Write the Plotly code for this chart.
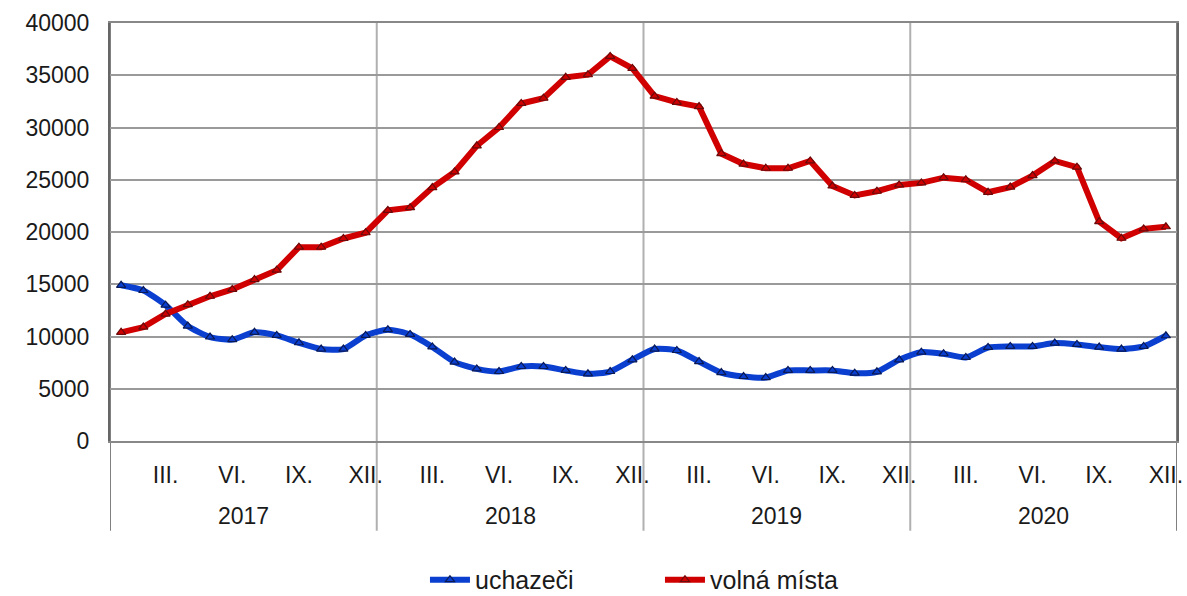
import plotly.graph_objects as go

years = ["2017", "2018", "2019", "2020"]
month_labels = ["III.", "VI.", "IX.", "XII."]
month_index = list(range(48))

uchazeci = [14900, 14400, 13000, 11000, 9950, 9700, 10400, 10100, 9400, 8800, 8800, 10100,
            10650, 10200, 9000, 7550, 6900, 6650, 7130, 7130, 6750, 6430, 6650, 7770,
            8800, 8660, 7600, 6550, 6170, 6070, 6750, 6750, 6750, 6490, 6620, 7770,
            8500, 8350, 8000, 8950, 9050, 9050, 9370, 9240, 8990, 8800, 9050, 10070]
volna_mista = [10400, 10900, 12150, 13050, 13850, 14500, 15450, 16350, 18550, 18550, 19380, 19930,
               22070, 22330, 24250, 25750, 28250, 30000, 32300, 32800, 34800, 35050, 36800, 35650,
               33000, 32400, 32000, 27500, 26500, 26100, 26100, 26800, 24400, 23500, 23900, 24500,
               24700, 25200, 25000, 23800, 24300, 25400, 26800, 26200, 21000, 19400, 20300, 20500]

FONT = "Liberation Sans, Arial, sans-serif"
TXT = "#1a1a1a"
TICK_SIZE = 23

fig = go.Figure()
fig.add_trace(go.Scatter(
    x=month_index, y=uchazeci, name="uchazeči", mode="lines+markers",
    line=dict(color="#0a3fd0", width=6, shape="spline", smoothing=0.6),
    marker=dict(symbol="triangle-up", size=8, color="#0a3fd0",
                line=dict(color="#0a1a55", width=1.2)),
))
fig.add_trace(go.Scatter(
    x=month_index, y=volna_mista, name="volná místa", mode="lines+markers",
    line=dict(color="#d00000", width=6),
    marker=dict(symbol="triangle-up", size=8, color="#d00000",
                line=dict(color="#6a0a0a", width=1.2)),
))

tickvals = []
ticktext = []
for yi in range(len(years)):
    for mi, lab in enumerate(month_labels):
        tickvals.append(yi * 12 + (mi + 1) * 3 - 1)
        ticktext.append(lab)

# year dividers (in plot and down through label area)
for yi in range(len(years) + 1):
    xpos = yi * 12 - 0.5
    fig.add_shape(type="line", xref="x", yref="paper", x0=xpos, x1=xpos,
                  y0=-0.215, y1=1,
                  line=dict(color="#b0b0b0" if 0 < yi < len(years) else "#808080", width=2),
                  layer="below")

for yi, yr in enumerate(years):
    fig.add_annotation(x=yi * 12 + 5.5, y=-0.18, xref="x", yref="paper", text=yr,
                       showarrow=False, yanchor="middle",
                       font=dict(family=FONT, size=TICK_SIZE, color=TXT))

fig.update_xaxes(
    range=[-0.5, 47.5], tickmode="array", tickvals=tickvals, ticktext=ticktext,
    showgrid=False, zeroline=False, ticks="outside", ticklen=12,
    tickcolor="rgba(0,0,0,0)", tickfont=dict(family=FONT, size=TICK_SIZE, color=TXT),
    showline=True, linecolor="#888888", linewidth=2, mirror=True, automargin=False,
)
fig.update_yaxes(
    range=[0, 40000], dtick=5000, tickformat="d", showgrid=True, gridcolor="#9a9a9a",
    gridwidth=1.5, zeroline=False, tickfont=dict(family=FONT, size=TICK_SIZE, color=TXT),
    showline=True, linecolor="#666666", linewidth=2, mirror=True,
    ticks="outside", ticklen=14, tickcolor="rgba(0,0,0,0)", automargin=False,
)

fig.update_layout(
    width=1187, height=596,
    margin=dict(l=110, r=10, t=23, b=155, autoexpand=False),
    paper_bgcolor="white", plot_bgcolor="white",
    showlegend=True,
    legend=dict(orientation="h", x=0.556, xanchor="center", xref="container",
                y=0.027, yanchor="middle", yref="container",
                font=dict(family=FONT, size=25, color=TXT),
                itemwidth=40, entrywidth=180, traceorder="normal"),
)

fig.write_html("out.html", config={"displayModeBar": False},
               post_script="document.body.style.margin='0px';document.body.style.overflow='hidden';")
